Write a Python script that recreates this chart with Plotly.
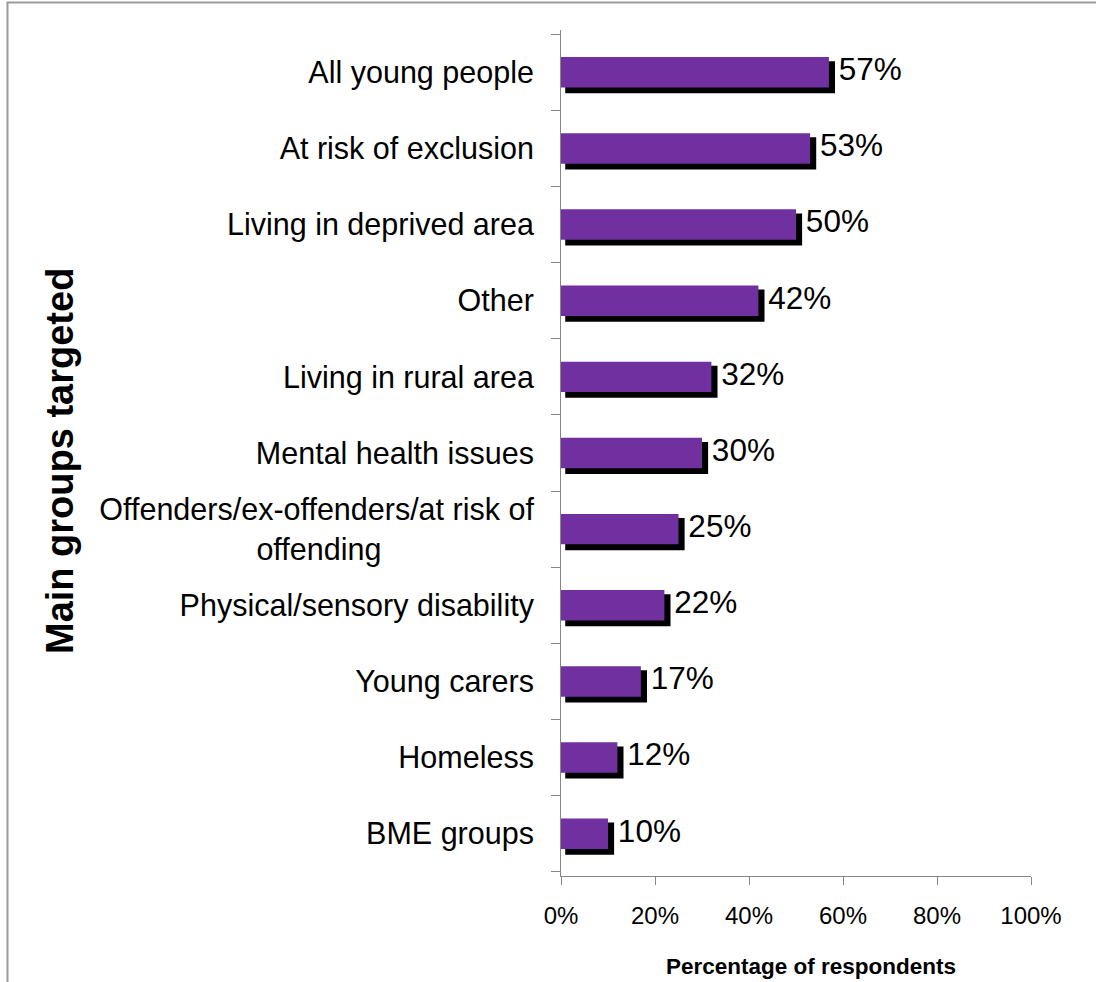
import plotly.graph_objects as go

# ---- data ----
categories = [
    "All young people",
    "At risk of exclusion",
    "Living in deprived area",
    "Other",
    "Living in rural area",
    "Mental health issues",
    "Offenders/ex-offenders/at risk of<br>offending",
    "Physical/sensory disability",
    "Young carers",
    "Homeless",
    "BME groups",
]
values = [57, 53, 50, 42, 32, 30, 25, 22, 17, 12, 10]
x_ticks = [0, 20, 40, 60, 80, 100]
x_title = "Percentage of respondents"
y_title = "Main groups targeted"

# ---- layout constants ----
W, H = 1096, 982
ML, MR, MT, MB = 561, 65, 30, 106
PW, PH = W - ML - MR, H - MT - MB
FONT = "Liberation Sans, Arial, sans-serif"
PURPLE = "#7030A0"
AXIS = "#868686"

# centre the wrapped label's second line under the first by padding it
def pad_label(lbl):
    if "<br>" in lbl:
        first, second = lbl.split("<br>")
        return first + "<br>" + second + "\u00a0" * 18
    return lbl

ticktext = [pad_label(c) for c in categories]

# shadow geometry (in data units)
sh_base = 0.9
sh_extra = 1.3
sh_width = 0.422
sh_offset = -0.146
label_gap = 0.8

fig = go.Figure()

# black drop-shadow bars
fig.add_trace(go.Bar(
    y=categories,
    x=[v + sh_extra - sh_base for v in values],
    base=[sh_base] * len(values),
    orientation="h",
    marker=dict(color="black", line=dict(width=0)),
    width=sh_width,
    offset=sh_offset,
    hoverinfo="skip",
    showlegend=False,
))

# purple bars
fig.add_trace(go.Bar(
    y=categories,
    x=values,
    orientation="h",
    marker=dict(color=PURPLE, line=dict(width=0)),
    width=0.4,
    offset=-0.2,
    hoverinfo="skip",
    showlegend=False,
))

# value labels
fig.add_trace(go.Scatter(
    y=categories,
    x=[v + sh_extra + label_gap for v in values],
    mode="text",
    text=[f"{v}%" for v in values],
    textposition="middle right",
    textfont=dict(family=FONT, size=31.5, color="black"),
    cliponaxis=False,
    hoverinfo="skip",
    showlegend=False,
))

def px_x(p):
    return (p - ML) / PW

def px_y(p):
    return (H - MB - p) / PH

fig.update_layout(
    width=W, height=H,
    margin=dict(l=ML, r=MR, t=MT, b=MB, pad=0),
    paper_bgcolor="white",
    plot_bgcolor="white",
    barmode="overlay",
    font=dict(family=FONT, color="black"),
    xaxis=dict(
        range=[0, 100],
        tickvals=x_ticks,
        ticktext=[f"{t}%" for t in x_ticks],
        showgrid=False,
        zeroline=False,
        showline=True,
        linecolor=AXIS,
        linewidth=1,
        ticks="outside",
        ticklen=8,
        tickcolor=AXIS,
        tickwidth=1,
        tickfont=dict(family=FONT, size=24, color="black"),
        ticklabelstandoff=10,
        fixedrange=True,
    ),
    yaxis=dict(
        type="category",
        categoryorder="array",
        categoryarray=categories,
        tickvals=categories,
        ticktext=ticktext,
        autorange="reversed",
        showgrid=False,
        zeroline=False,
        showline=True,
        linecolor=AXIS,
        linewidth=1,
        ticks="outside",
        tickson="boundaries",
        ticklen=9,
        tickcolor=AXIS,
        tickwidth=1,
        tickfont=dict(family=FONT, size=30.5, color="black"),
        ticklabelstandoff=20,
        fixedrange=True,
    ),
    annotations=[
        dict(
            text=f"<b>{x_title}</b>",
            xref="paper", yref="paper",
            x=px_x(811), y=px_y(966),
            xanchor="center", yanchor="middle",
            showarrow=False,
            font=dict(family=FONT, size=22.5, color="black"),
        ),
        dict(
            text=f"<b>{y_title}</b>",
            xref="paper", yref="paper",
            x=px_x(60), y=px_y(461),
            xanchor="center", yanchor="middle",
            textangle=-90,
            showarrow=False,
            font=dict(family=FONT, size=38, color="black"),
        ),
    ],
    shapes=[
        dict(type="line", xref="paper", yref="paper",
             x0=px_x(7.5), y0=px_y(H + 2), x1=px_x(7.5), y1=px_y(2.5),
             line=dict(color="#9a9a9a", width=2)),
        dict(type="line", xref="paper", yref="paper",
             x0=px_x(6.5), y0=px_y(2.5), x1=px_x(W + 2), y1=px_y(2.5),
             line=dict(color="#9a9a9a", width=2)),
    ],
)

fig.write_html("out.html")
